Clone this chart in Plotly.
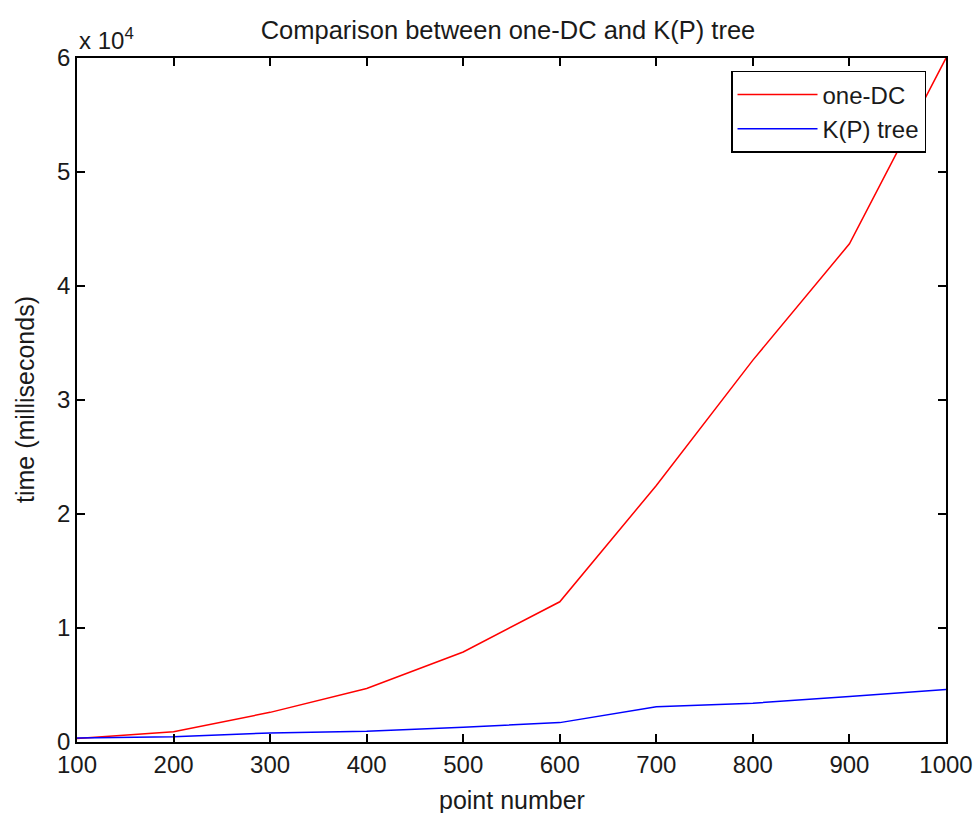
import plotly.graph_objects as go

point_number = [100, 200, 300, 400, 500, 600, 700, 800, 900, 1000]
one_dc = [300, 900, 2600, 4700, 7900, 12300, 22500, 33500, 43700, 60000]
kp_tree = [350, 450, 800, 950, 1300, 1700, 3100, 3400, 4000, 4600]
x_ticks = [100, 200, 300, 400, 500, 600, 700, 800, 900, 1000]
y_ticks = [0, 10000, 20000, 30000, 40000, 50000, 60000]
y_ticktext = ["0", "1", "2", "3", "4", "5", "6"]

fig = go.Figure()
fig.add_trace(go.Scatter(x=point_number, y=one_dc, mode="lines", name="one-DC",
                         line=dict(color="#ff0000", width=1.5)))
fig.add_trace(go.Scatter(x=point_number, y=kp_tree, mode="lines", name="K(P) tree",
                         line=dict(color="#0000ff", width=1.5)))

font = "Liberation Sans, Arial, sans-serif"
txt = "#1a1a1a"
axis_common = dict(showgrid=False, zeroline=False, showline=True, linecolor="black",
                   linewidth=1.5, mirror="ticks", ticks="inside", ticklen=8,
                   tickcolor="black", tickwidth=1.5, automargin=False,
                   ticklabeloverflow="allow",
                   tickfont=dict(family=font, size=24, color=txt))

fig.update_layout(
    width=975, height=813,
    paper_bgcolor="white", plot_bgcolor="white",
    margin=dict(l=77, r=29, t=58, b=71),
    title=dict(text="Comparison between one-DC and K(P) tree", x=0.521, xanchor="center",
               y=0.963, yanchor="middle",
               font=dict(family=font, size=25.5, color=txt)),
    xaxis=dict(range=[100, 1000], tickvals=x_ticks, **axis_common),
    yaxis=dict(range=[0, 60000], tickvals=y_ticks, ticktext=y_ticktext, **axis_common),
    legend=dict(x=0.977, y=0.981, xanchor="right", yanchor="top",
                bgcolor="white", bordercolor="black", borderwidth=1.5,
                font=dict(family=font, size=24, color=txt),
                itemwidth=80, tracegroupgap=0),
    showlegend=True,
)
# axis titles
fig.add_annotation(text="point number", xref="paper", yref="paper", x=0.5, y=0,
                   xanchor="center", yanchor="middle", yshift=-58, showarrow=False,
                   font=dict(family=font, size=25, color=txt))
fig.add_annotation(text="time (milliseconds)", xref="paper", yref="paper", x=0, y=0.5,
                   xanchor="center", yanchor="middle", xshift=-52, textangle=-90,
                   showarrow=False, font=dict(family=font, size=25, color=txt))
# exponent label
fig.add_annotation(text="x 10<sup>4</sup>", xref="paper", yref="paper", x=0.0, y=1.0,
                   xanchor="left", yanchor="bottom", showarrow=False, yshift=2,
                   font=dict(family=font, size=24, color=txt))

fig.write_html("out.html", config={"displayModeBar": False},
               post_script="document.body.style.margin='0';")
